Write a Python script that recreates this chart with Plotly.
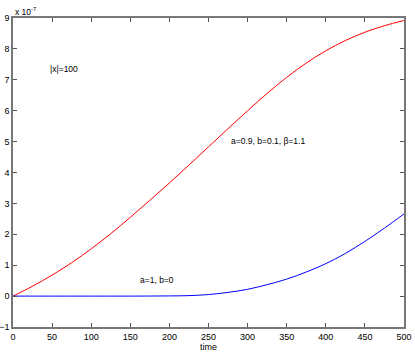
import plotly.graph_objects as go

# values in units of 1e-7
time = [0, 25, 50, 75, 100, 125, 150, 175, 200, 225, 250,
        275, 300, 325, 350, 375, 400, 425, 450, 475, 500]
red_vals = [0, 0.32, 0.68, 1.08, 1.53, 2.02, 2.55, 3.10, 3.66, 4.24, 4.83,
            5.42, 6.0, 6.56, 7.08, 7.54, 7.94, 8.27, 8.54, 8.75, 8.92]
blue_vals = [0, 0, 0, 0, 0, 0, 0, 0.002, 0.006, 0.015, 0.05,
             0.12, 0.22, 0.37, 0.55, 0.78, 1.05, 1.38, 1.77, 2.2, 2.66]
xticks = [0, 50, 100, 150, 200, 250, 300, 350, 400, 450, 500]
yticks = [-1, 0, 1, 2, 3, 4, 5, 6, 7, 8, 9]

fnt = dict(family="Liberation Sans, Arial, sans-serif", size=9, color="black")
afnt = dict(family="Liberation Sans, Arial, sans-serif", size=8.5, color="black")

fig = go.Figure()
fig.add_trace(go.Scatter(x=time, y=red_vals, mode="lines", line_shape="spline",
                         line=dict(color="#ff0000", width=1)))
fig.add_trace(go.Scatter(x=time, y=blue_vals, mode="lines", line_shape="spline",
                         line=dict(color="#0000ff", width=1)))

axis_style = dict(showline=True, linecolor="#777777", linewidth=1.5, mirror="ticks",
                  ticks="inside", ticklen=4, tickcolor="#555555", showgrid=False,
                  zeroline=False, tickfont=fnt, automargin=False)
fig.update_xaxes(range=[0, 500], tickvals=xticks, title=dict(text="time", font=fnt, standoff=0),
                 **axis_style)
fig.update_yaxes(range=[-1, 9], tickvals=yticks, **axis_style)

fig.add_annotation(x=0, y=1, xref="paper", yref="paper", text="x 10<sup>-7</sup>",
                   showarrow=False, xanchor="left", yanchor="bottom", font=afnt, yshift=-1)
fig.add_annotation(x=45, y=7.35, text="|x|=100", showarrow=False, xanchor="left", font=afnt)
fig.add_annotation(x=276, y=5.02, text="a=0.9, b=0.1, β=1.1", showarrow=False,
                   xanchor="left", font=afnt)
fig.add_annotation(x=160, y=0.52, text="a=1, b=0", showarrow=False, xanchor="left", font=afnt)

fig.update_layout(width=415, height=352, showlegend=False, font=fnt,
                  plot_bgcolor="white", paper_bgcolor="white",
                  margin=dict(l=13, r=11, t=18, b=25))
# drop the browser's default body margin so the figure sits at the top-left corner
fig.write_html("out.html", config={"displayModeBar": False},
               post_script="document.body.style.margin='0';")
